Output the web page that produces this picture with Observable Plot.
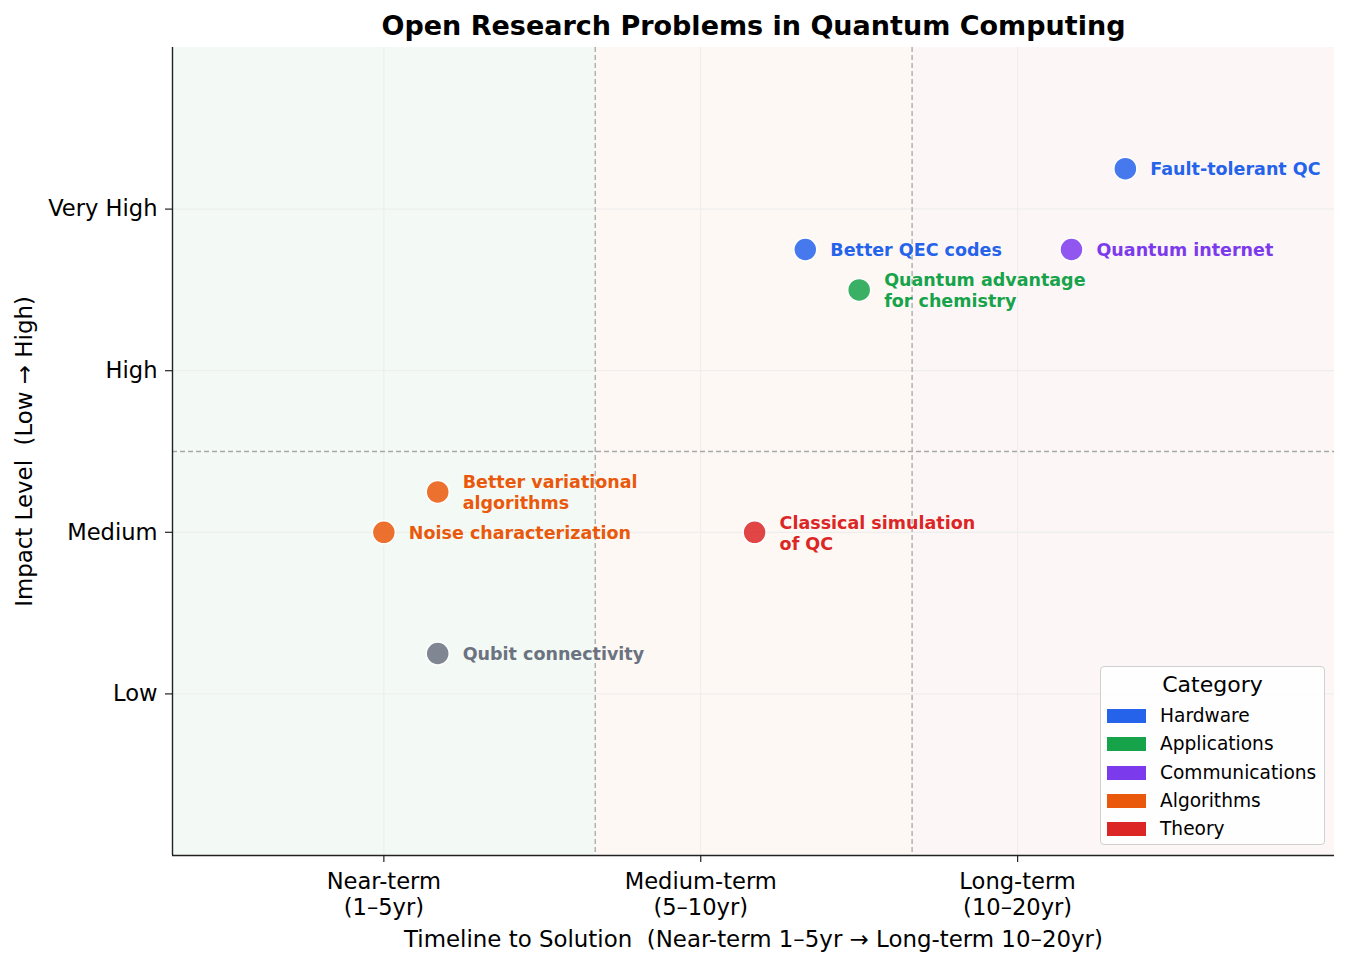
<!DOCTYPE html>
<html>
<head>
<meta charset="utf-8">
<script src="https://cdn.jsdelivr.net/npm/d3@7"></script>
<script src="https://cdn.jsdelivr.net/npm/@observablehq/plot@0.6"></script>
<style>
  html, body { margin: 0; padding: 0; background: #fff; }
  #wrap { position: relative; width: 1349px; height: 966px; font-family: "DejaVu Sans", sans-serif; }
  #legend { position: absolute; left: 1100px; top: 666px; width: 223px; height: 177px;
    border: 1px solid #d0d0d0; border-radius: 4px; background: rgba(255,255,255,0.85); box-sizing: content-box; }
  #legend .ttl { position: absolute; left: 0; right: 0; top: 5px; height: 26px; line-height: 26px;
    text-align: center; font-size: 22px; color: #000; }
  #legend .row { position: absolute; left: 6px; height: 28px; display: flex; align-items: center; }
  #legend .sw { width: 39px; height: 14px; margin-right: 14px; }
  #legend .lb { font-size: 18.6px; color: #000; line-height: 28px; }
</style>
</head>
<body>
<div id="wrap"></div>
<script>
// ---- data ----
const problems   = ["Fault-tolerant QC", "Better QEC codes", "Quantum internet", "Quantum advantage\nfor chemistry",
                    "Better variational\nalgorithms", "Noise characterization", "Classical simulation\nof QC", "Qubit connectivity"];
const categoryOf = ["Hardware", "Hardware", "Communications", "Applications",
                    "Algorithms", "Algorithms", "Theory", "Other"];
const timeline   = [3.34, 2.33, 3.17, 2.50, 1.17, 1.00, 2.17, 1.17];
const impact     = [4.25, 3.75, 3.75, 3.50, 2.25, 2.00, 2.00, 1.25];

const legendCategories = ["Hardware", "Applications", "Communications", "Algorithms", "Theory"];
const categoryColors   = ["#2563eb", "#16a34a", "#7c3aed", "#ea580c", "#dc2626"];
const otherColor = "#6b7280";

const xTicks = [1, 2, 3];
const xTickLabels = ["Near-term\n(1–5yr)", "Medium-term\n(5–10yr)", "Long-term\n(10–20yr)"];
const yTicks = [1, 2, 3, 4];
const yTickLabels = ["Low", "Medium", "High", "Very High"];

const xDomain = [0.333, 4.0];
const yDomain = [0, 5];
const regionBreaks = [0.333, 1.667, 2.667, 4.0];
const regionFills = ["#f3faf5", "#fdf8f4", "#fcf6f6"];
const impactSplit = 2.5;

// ---- build ----
const rows = problems.map((p, i) => ({name: p, cat: categoryOf[i], x: timeline[i], y: impact[i]}));
const regions = regionFills.map((f, i) => ({x1: regionBreaks[i], x2: regionBreaks[i + 1], fill: f}));
const colorDomain = [...legendCategories, "Other"];
const colorRange = [...categoryColors, otherColor];
const colorOf = c => colorRange[colorDomain.indexOf(c)];

const font = "DejaVu Sans";

const chart = Plot.plot({
  width: 1349,
  height: 966,
  marginTop: 47,
  marginBottom: 111,
  marginLeft: 172,
  marginRight: 15,
  style: {fontFamily: font, background: "transparent", color: "#000"},
  x: {domain: xDomain, axis: null},
  y: {domain: yDomain, axis: null},
  color: {domain: colorDomain, range: colorRange},
  marks: [
    Plot.rect(regions, {x1: "x1", x2: "x2", y1: yDomain[0], y2: yDomain[1], fill: d => d.fill}),
    Plot.ruleX(xTicks, {stroke: "#ebebeb", strokeWidth: 0.9}),
    Plot.ruleY(yTicks, {stroke: "#ebebeb", strokeWidth: 0.9}),
    Plot.ruleX(regionBreaks.slice(1, -1), {stroke: "#a8a8a8", strokeWidth: 1.3, strokeDasharray: "5,3"}),
    Plot.ruleY([impactSplit], {stroke: "#a8a8a8", strokeWidth: 1.3, strokeDasharray: "5,3"}),
    Plot.ruleX([xDomain[0]], {stroke: "#222", strokeWidth: 1.4}),
    Plot.ruleY([yDomain[0]], {stroke: "#222", strokeWidth: 1.4}),
    // ticks
    Plot.axisX({ticks: xTicks, tickSize: 7, tickFormat: () => "", label: null, stroke: "#222", strokeWidth: 1.2}),
    Plot.text(xTicks, {x: d => d, text: (d, i) => xTickLabels[i], frameAnchor: "bottom", dy: 15.5, lineAnchor: "top",
      textAnchor: "middle", lineHeight: 1.13, fontSize: 22.6, fill: "#000"}),
    Plot.axisY({ticks: yTicks, tickSize: 7, tickPadding: 8, tickFormat: d => yTickLabels[yTicks.indexOf(d)],
      fontSize: 22.6, label: null, stroke: "#222", strokeWidth: 1.2, fill: "#000"}),
    // dots & labels
    Plot.dot(rows, {x: "x", y: "y", r: 11.5, fill: "cat", fillOpacity: 0.85, stroke: "white", strokeWidth: 1.5}),
    Plot.text(rows, {x: "x", y: "y", text: "name", dx: 25, textAnchor: "start", lineAnchor: "middle",
      fill: d => colorOf(d.cat), fontWeight: "bold", fontSize: 17.5, lineHeight: 1.2}),
    // axis titles & title
    Plot.text(["Timeline to Solution  (Near-term 1–5yr → Long-term 10–20yr)"], {frameAnchor: "bottom", dy: 84,
      textAnchor: "middle", lineAnchor: "middle", fontSize: 22.9, fill: "#000"}),
    Plot.text(["Impact Level  (Low → High)"], {frameAnchor: "left", dx: -148, rotate: -90,
      textAnchor: "middle", lineAnchor: "middle", fontSize: 22.9, fill: "#000"}),
    Plot.text(["Open Research Problems in Quantum Computing"], {frameAnchor: "top", dy: -21,
      textAnchor: "middle", lineAnchor: "middle", fontSize: 27, fontWeight: "bold", fill: "#000"})
  ]
});

const wrap = document.getElementById("wrap");
wrap.appendChild(chart);

// legend (HTML)
const lg = document.createElement("div");
lg.id = "legend";
const t = document.createElement("div");
t.className = "ttl";
t.textContent = "Category";
lg.appendChild(t);
legendCategories.forEach((c, i) => {
  const r = document.createElement("div");
  r.className = "row";
  r.style.top = (35 + i * 28.3) + "px";
  const sw = document.createElement("div");
  sw.className = "sw";
  sw.style.background = categoryColors[i];
  const lb = document.createElement("span");
  lb.className = "lb";
  lb.textContent = c;
  r.appendChild(sw);
  r.appendChild(lb);
  lg.appendChild(r);
});
wrap.appendChild(lg);
</script>
</body>
</html>
